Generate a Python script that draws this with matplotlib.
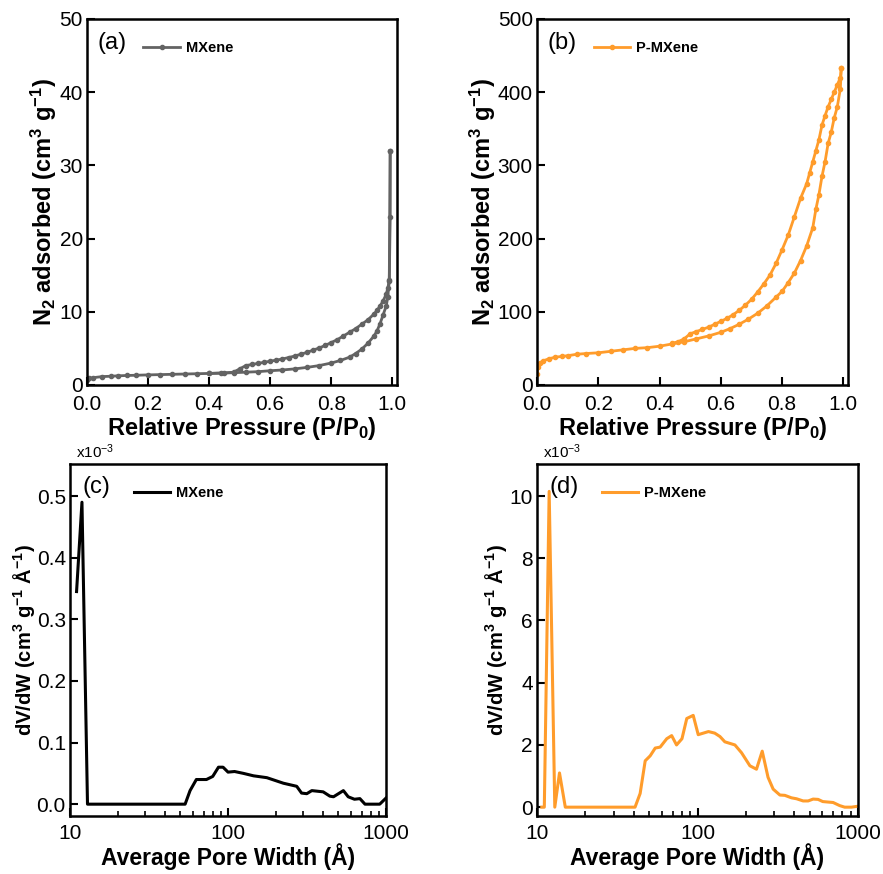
import numpy as np
import matplotlib
matplotlib.use('Agg')
from matplotlib import pyplot as plt

plt.rcParams['font.family'] = ['Liberation Sans', 'DejaVu Sans']
plt.rcParams['mathtext.default'] = 'regular'

# (a) MXene isotherm
mx_ads_p = [0.0, 0.005, 0.02, 0.05, 0.08, 0.1, 0.13, 0.16, 0.2, 0.24, 0.28, 0.32, 0.36, 0.4, 0.44, 0.48,
            0.52, 0.56, 0.6, 0.64, 0.68, 0.72, 0.76, 0.8, 0.83, 0.86, 0.88, 0.9, 0.92, 0.94, 0.95, 0.96,
            0.97, 0.98, 0.985, 0.99, 0.993, 0.993]
mx_ads_v = [0.7, 0.9, 1.0, 1.15, 1.2, 1.25, 1.3, 1.33, 1.38, 1.42, 1.46, 1.5, 1.54, 1.58, 1.62, 1.68,
            1.75, 1.82, 1.95, 2.05, 2.2, 2.4, 2.65, 3.0, 3.35, 3.8, 4.3, 4.9, 5.7, 6.7, 7.4, 8.4,
            9.6, 10.8, 12.0, 14.2, 23.0, 32.0]
mx_des_p = [0.993, 0.99, 0.985, 0.98, 0.97, 0.96, 0.95, 0.94, 0.92, 0.9, 0.88, 0.86, 0.84, 0.82, 0.8,
            0.78, 0.76, 0.74, 0.72, 0.7, 0.68, 0.66, 0.64, 0.62, 0.6, 0.58, 0.56, 0.54, 0.52, 0.5, 0.48,
            0.45, 0.4]
mx_des_v = [32.0, 14.3, 13.2, 12.4, 11.5, 10.8, 10.2, 9.7, 8.9, 8.3, 7.7, 7.2, 6.7, 6.2, 5.8,
            5.4, 5.05, 4.75, 4.45, 4.2, 3.95, 3.75, 3.55, 3.4, 3.25, 3.1, 2.95, 2.8, 2.65, 2.2, 1.75,
            1.65, 1.58]

# (b) P-MXene isotherm
pmx_ads_p = [0.0, 0.003, 0.01, 0.02, 0.04, 0.06, 0.08, 0.1, 0.13, 0.16, 0.2, 0.24, 0.28, 0.32, 0.36,
             0.4, 0.44, 0.48, 0.52, 0.56, 0.6, 0.63, 0.66, 0.69, 0.72, 0.75, 0.78, 0.8, 0.82, 0.84,
             0.86, 0.88, 0.9, 0.91, 0.92, 0.93, 0.94, 0.95, 0.96, 0.97, 0.98, 0.99, 0.993]
pmx_ads_v = [15, 24, 30, 33, 36, 38, 39, 40, 42, 43, 44, 46, 48, 50, 51,
             53, 56, 59, 63, 67, 72, 77, 83, 90, 98, 108, 120, 128, 140, 153,
             170, 190, 215, 240, 260, 285, 305, 330, 345, 365, 380, 405, 433]
pmx_des_p = [0.993, 0.99, 0.98, 0.97, 0.96, 0.95, 0.94, 0.93, 0.92, 0.91, 0.9, 0.89, 0.88, 0.86,
             0.84, 0.82, 0.8, 0.78, 0.76, 0.74, 0.72, 0.7, 0.68, 0.66, 0.64, 0.62, 0.6, 0.58, 0.56,
             0.54, 0.52, 0.5, 0.48, 0.46, 0.44]
pmx_des_v = [433, 420, 410, 400, 390, 380, 368, 355, 335, 320, 305, 290, 275, 255,
             230, 205, 185, 166, 150, 138, 127, 117, 109, 102, 96, 91, 87, 83, 79,
             76, 73, 70, 63, 59, 57]

# (c) MXene pore size distribution (x1e-3)
mx_w = [11.0, 11.9, 12.9, 20, 30, 40, 50, 53.5, 57.5, 63, 73, 80, 87, 93, 100, 110, 125, 145, 176,
        224, 272, 292, 315, 339, 400, 441, 465, 537, 576, 631, 683, 736, 912, 1000]
mx_dv = [0.345, 0.49, 0.0, 0.0, 0.0, 0.0, 0.0, 0.0, 0.022, 0.04, 0.04, 0.045, 0.06, 0.06, 0.052, 0.053,
         0.05, 0.046, 0.043, 0.034, 0.029, 0.018, 0.017, 0.022, 0.02, 0.013, 0.012, 0.022, 0.012,
         0.008, 0.009, 0.0, 0.0, 0.01]

# (d) P-MXene pore size distribution (x1e-3)
pmx_w = [10.7, 11.1, 11.9, 12.9, 13.8, 15.0, 20, 30, 40.8, 43.9, 47.2, 50.7, 54.5, 58.5, 64.3, 69, 74,
         80, 85.7, 94, 101, 117, 128, 138, 148, 171, 188, 212, 233, 253, 275, 296, 326, 350, 385,
         414, 455, 489, 525, 564, 603, 700, 769, 826, 910, 1000]
pmx_dv = [0.0, 0.0, 10.15, 0.0, 1.1, 0.0, 0.0, 0.0, 0.0, 0.44, 1.49, 1.65, 1.9, 1.93, 2.2, 2.3, 2.0,
          2.2, 2.85, 2.95, 2.33, 2.43, 2.38, 2.27, 2.1, 2.0, 1.75, 1.33, 1.22, 1.8, 0.96, 0.58, 0.39,
          0.38, 0.3, 0.27, 0.2, 0.2, 0.26, 0.25, 0.18, 0.15, 0.05, 0.0, 0.0, 0.03]

gray = '#636363'
orange = '#FF9C2B'

fig = plt.figure(figsize=(8.83, 8.74), dpi=100)
ax_a = fig.add_axes([0.0985, 0.5595, 0.351, 0.4188])
ax_b = fig.add_axes([0.6082, 0.5595, 0.3522, 0.4188])
ax_c = fig.add_axes([0.0793, 0.0665, 0.3579, 0.4026])
ax_d = fig.add_axes([0.6082, 0.0665, 0.3635, 0.4026])


def style(ax):
    for s in ax.spines.values():
        s.set_linewidth(1.8)
    ax.tick_params(which='major', direction='in', length=6, width=1.5, labelsize=15, pad=3)
    ax.tick_params(which='minor', direction='in', length=3.5, width=1.2)
    ax.tick_params(axis='x', which='major', pad=7)
    ax.tick_params(top=False, right=False)


# isotherms
for ax, ap, av, dp, dv, c, lab, tag, ymax, ystep in [
        (ax_a, mx_ads_p, mx_ads_v, mx_des_p, mx_des_v, gray, 'MXene', '(a)', 50, 10),
        (ax_b, pmx_ads_p, pmx_ads_v, pmx_des_p, pmx_des_v, orange, 'P-MXene', '(b)', 500, 100)]:
    ax.plot(ap, av, '-o', color=c, lw=2, ms=3, label=lab)
    ax.plot(dp, dv, '-o', color=c, lw=2, ms=3)
    ax.set_xlim(0, 1.015)
    ax.set_ylim(0, ymax)
    ax.set_xticks(np.arange(0, 1.01, 0.2))
    ax.set_yticks(np.arange(0, ymax + 1, ystep))
    ax.xaxis.set_major_formatter(matplotlib.ticker.FormatStrFormatter('%.1f'))
    style(ax)
    ax.set_xlabel('Relative Pressure (P/P$_0$)', fontsize=17, fontweight='bold', labelpad=1)
    ax.set_ylabel('N$_2$ adsorbed (cm$^3$ g$^{-1}$)', fontsize=17, fontweight='bold', labelpad=0)
    ax.text(0.035, 0.935, tag, transform=ax.transAxes, fontsize=17, va='center')
    ax.legend(loc='upper left', bbox_to_anchor=(0.14, 0.975), frameon=False, handlelength=2.5,
              prop={'weight': 'bold', 'size': 10.5}, handletextpad=0.4)

# pore size distributions
for ax, w, dvv, c, lab, tag, ylim, yt in [
        (ax_c, mx_w, mx_dv, 'black', 'MXene', '(c)', (-0.019, 0.552), np.arange(0, 0.51, 0.1)),
        (ax_d, pmx_w, pmx_dv, orange, 'P-MXene', '(d)', (-0.28, 11.03), np.arange(0, 10.1, 2))]:
    ax.plot(w, dvv, '-', color=c, lw=2.2, label=lab)
    ax.set_xscale('log')
    ax.set_xlim(10, 1000)
    ax.set_ylim(*ylim)
    ax.set_yticks(yt)
    ax.xaxis.set_major_formatter(matplotlib.ticker.FormatStrFormatter('%d'))
    style(ax)
    ax.tick_params(axis='x', which='major', pad=6)
    ax.set_xlabel('Average Pore Width (Å)', fontsize=16.5, fontweight='bold', labelpad=0)
    ax.set_ylabel('dV/dW (cm$^3$ g$^{-1}$ Å$^{-1}$)', fontsize=14.5, fontweight='bold', labelpad=0)
    ax.text(0.04, 0.935, tag, transform=ax.transAxes, fontsize=17, va='center')
    ax.text(0.02, 1.008, 'x10$^{-3}$', transform=ax.transAxes, fontsize=11, va='bottom')
    ax.legend(loc='upper left', bbox_to_anchor=(0.16, 0.975), frameon=False, handlelength=2.5,
              prop={'weight': 'bold', 'size': 10.5}, handletextpad=0.4)

ax_c.yaxis.set_major_formatter(matplotlib.ticker.FormatStrFormatter('%.1f'))
ax_d.yaxis.set_major_formatter(matplotlib.ticker.FormatStrFormatter('%d'))

plt.savefig('out.png', dpi=100)
